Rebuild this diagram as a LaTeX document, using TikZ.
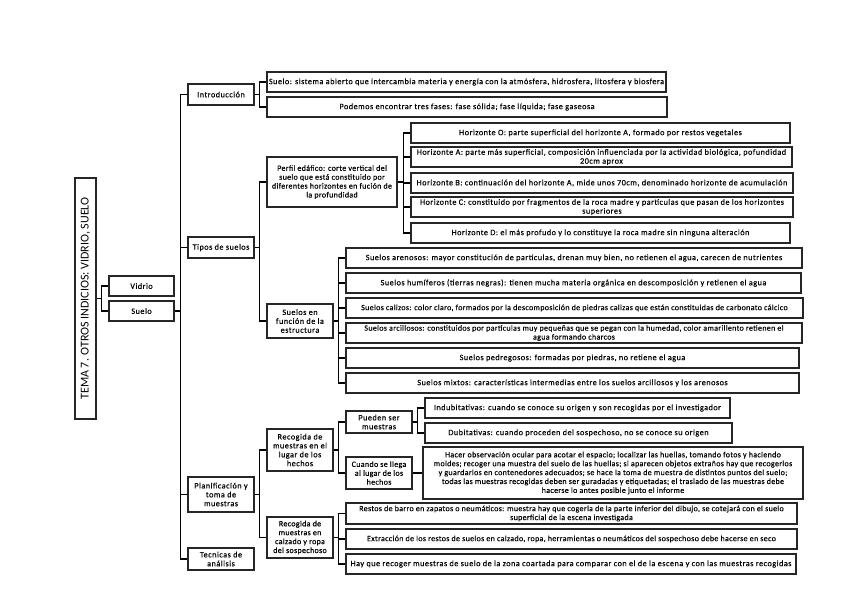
\documentclass[tikz,border=0pt]{standalone}
\usepackage{fontspec}
\setmainfont{Carlito}
\newfontfamily\bxf[LetterSpace=6,FakeBold=0.35]{Carlito}
\newfontfamily\bxt[LetterSpace=4,FakeBold=0.35]{Carlito}
\newcommand\lnk[2]{\draw[link] (#2.west) -- ++(-7,0) |- (#1.east);}
\begin{document}
\begin{tikzpicture}[x=1pt,y=-1pt,
  box/.style={draw=black!85, line width=1.3pt, inner sep=0pt, align=center,
    font=\bxf\fontsize{8.2}{8.9}\selectfont},
  tight/.style={font=\bxt\fontsize{8}{8.9}\selectfont},
  link/.style={draw=black, line width=1.1pt}]
\useasboundingbox (0,0) rectangle (848,599);
% root
\node[draw=black!85, line width=1.3pt, minimum width=21pt, minimum height=241pt, inner sep=0pt] (title) at (85.5,298.5) {};
\node[rotate=90, font=\fontsize{12}{14}\selectfont] at (title.center) {TEMA 7. OTROS INDICIOS: VIDRIO, SUELO};
\node[box, minimum width=65pt, minimum height=20pt] (vidrio) at (141.5,286) {Vidrio};
\node[box, minimum width=65pt, minimum height=20pt] (suelo) at (141.5,311) {Suelo};
% level 2
\node[box, minimum width=66pt, minimum height=21pt] (intro) at (221,94.5) {Introducción};
\node[box, minimum width=66pt, minimum height=21pt] (tipos) at (221,247.5) {Tipos de suelos};
\node[box, minimum width=66pt, minimum height=35pt] (plan) at (221,494.5) {Planificación y\\toma de\\muestras};
\node[box, minimum width=66pt, minimum height=22pt] (tec) at (221,559) {Tecnicas de\\análisis};
% intro children
\node[box, minimum width=399pt, minimum height=20pt] (i1) at (466.5,82) {Suelo: sistema abierto que intercambia materia y energía con la atmósfera, hidrosfera, litosfera y biosfera};
\node[box, minimum width=400pt, minimum height=20pt] (i2) at (467,107) {Podemos encontrar tres fases: fase sólida; fase líquida; fase gaseosa};
% tipos children
\node[box, tight, minimum width=130pt, minimum height=50pt] (perfil) at (332,182) {Perfil edáfico: corte vertical del\\suelo que está constituido por\\diferentes horizontes en fución de\\la profundidad};
\node[box, minimum width=66pt, minimum height=34pt] (funcion) at (300,321) {Suelos en\\función de la\\estructura};
% horizons
\node[box, minimum width=379pt, minimum height=20pt] (hO) at (600.5,133) {Horizonte O: parte superficial del horizonte A, formado por restos vegetales};
\node[box, minimum width=381pt, minimum height=20pt] (hA) at (601.5,157) {Horizonte A: parte más superficial, composición influenciada por la actividad biológica, pofundidad\\20cm aprox};
\node[box, minimum width=382pt, minimum height=20pt] (hB) at (602,183) {Horizonte B: continuación del horizonte A, mide unos 70cm, denominado horizonte de acumulación};
\node[box, minimum width=382pt, minimum height=20pt] (hC) at (602,207) {Horizonte C: constituido por fragmentos de la roca madre y partículas que pasan de los horizontes\\superiores};
\node[box, minimum width=379pt, minimum height=20pt] (hD) at (600.5,233) {Horizonte D: el más profudo y lo constituye la roca madre sin ninguna alteración};
% soil types
\node[box, minimum width=456pt, minimum height=20pt] (s1) at (574,258) {Suelos arenosos: mayor constitución de partículas, drenan muy bien, no retienen el agua, carecen de nutrientes};
\node[box, minimum width=455pt, minimum height=20pt] (s2) at (573.5,283) {Suelos humíferos (tierras negras): tienen mucha materia orgánica en descomposición y retienen el agua};
\node[box, tight, minimum width=457pt, minimum height=20pt] (s3) at (574.5,308) {Suelos calizos: color claro, formados por la descomposición de piedras calizas que están constituidas de carbonato cálcico};
\node[box, tight, minimum width=456pt, minimum height=20pt] (s4) at (574,333) {Suelos arcillosos: constituidos por partículas muy pequeñas que se pegan con la humedad, color amarillento retienen el\\agua formando charcos};
\node[box, minimum width=453pt, minimum height=20pt] (s5) at (572.5,358) {Suelos pedregosos: formadas por piedras, no retiene el agua};
\node[box, minimum width=453pt, minimum height=20pt] (s6) at (572.5,383) {Suelos mixtos: características intermedias entre los suelos arcillosos y los arenosos};
% planificacion children
\node[box, minimum width=66pt, minimum height=42pt] (lugar) at (300,450) {Recogida de\\muestras en el\\lugar de los\\hechos};
\node[box, tight, minimum width=66pt, minimum height=41pt] (calzado) at (300,537.5) {Recogida de\\muestras en\\calzado y ropa\\del sospechoso};
\node[box, minimum width=66pt, minimum height=22pt] (pueden) at (379,422) {Pueden ser\\muestras};
\node[box, tight, minimum width=66pt, minimum height=32pt] (cuando) at (379,473) {Cuando se llega\\al lugar de los\\hechos};
\node[box, minimum width=305pt, minimum height=20pt] (ind) at (577.5,408) {Indubitativas: cuando se conoce su origen y son recogidas por el investigador};
\node[box, minimum width=307pt, minimum height=20pt] (dub) at (578.5,433) {Dubitativas: cuando proceden del sospechoso, no se conoce su origen};
\node[box, tight, minimum width=380pt, minimum height=52pt] (hacer) at (613,473) {Hacer observación ocular para acotar el espacio; localizar las huellas, tomando fotos y haciendo\\moldes; recoger una muestra del suelo de las huellas; si aparecen objetos extraños hay que recogerlos\\y guardarlos en contenedores adecuados; se hace la toma de muestra de distintos puntos del suelo;\\todas las muestras recogidas deben ser guradadas y etiquetadas; el traslado de las muestras debe\\hacerse lo antes posible junto el informe};
\node[box, tight, minimum width=451pt, minimum height=21pt] (restos) at (571.5,513.5) {Restos de barro en zapatos o neumáticos: muestra hay que cogerla de la parte inferior del dibujo, se cotejará con el suelo\\superficial de la escena investigada};
\node[box, tight, minimum width=451pt, minimum height=20pt] (extr) at (571.5,539) {Extracción de los restos de suelos en calzado, ropa, herramientas o neumáticos del sospechoso debe hacerse en seco};
\node[box, minimum width=450pt, minimum height=20pt] (hay) at (571,564) {Hay que recoger muestras de suelo de la zona coartada para comparar con el de la escena y con las muestras recogidas};
% connectors
\lnk{title}{vidrio}\lnk{title}{suelo}
\lnk{suelo}{intro}\lnk{suelo}{tipos}\lnk{suelo}{plan}\lnk{suelo}{tec}
\lnk{intro}{i1}\lnk{intro}{i2}
\lnk{tipos}{perfil}\lnk{tipos}{funcion}
\lnk{perfil}{hO}\lnk{perfil}{hA}\lnk{perfil}{hB}\lnk{perfil}{hC}\lnk{perfil}{hD}
\lnk{funcion}{s1}\lnk{funcion}{s2}\lnk{funcion}{s3}\lnk{funcion}{s4}\lnk{funcion}{s5}\lnk{funcion}{s6}
\lnk{plan}{lugar}\lnk{plan}{calzado}
\lnk{lugar}{pueden}\lnk{lugar}{cuando}
\lnk{pueden}{ind}\lnk{pueden}{dub}
\draw[link] (cuando.east) -- (hacer.west);
\lnk{calzado}{restos}\lnk{calzado}{extr}\lnk{calzado}{hay}
\end{tikzpicture}
\end{document}
